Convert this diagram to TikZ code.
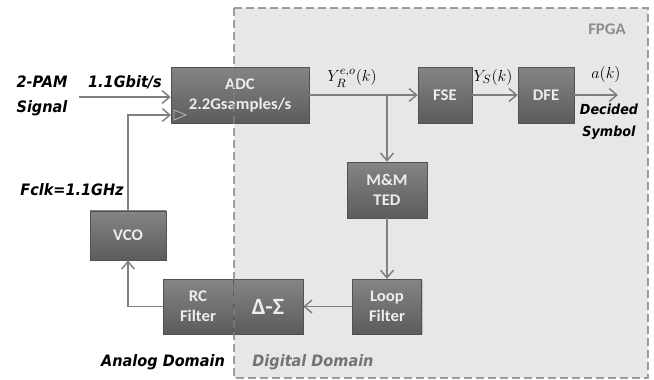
\documentclass[tikz,border=0pt]{standalone}
\usepackage{fontspec}
\usepackage{amsmath}
\usetikzlibrary{arrows.meta,shadows}
\newfontfamily\blkfont[FakeStretch=1.03]{Carlito}
\newfontfamily\lblfont[FakeStretch=0.92]{DejaVu Sans}
\definecolor{linea}{HTML}{7F7F7F}
\definecolor{fondo}{HTML}{E7E7E7}
\tikzset{
  bloque/.style={draw=black!68,top color=black!48,bottom color=black!64,text=white!93!black,
    font=\blkfont\bfseries\fontsize{12.2}{15}\selectfont,align=center,inner sep=0pt,
    drop shadow={shadow xshift=0.8pt,shadow yshift=-0.8pt,opacity=0.35}},
  etiq/.style={font=\lblfont\bfseries\itshape\fontsize{11.8}{18.5}\selectfont,align=center},
  flujo/.style={draw=linea,line width=1.1pt,-{Straight Barb[length=2mm,width=3.4mm]}},
}
\begin{document}
\begin{tikzpicture}[x=0.75pt,y=-0.75pt]
  \useasboundingbox (0,0) rectangle (654,379);
  % zona fpga
  \fill[fondo] (234,8) rectangle (648,378);
  % bloques
  \node[bloque,minimum width=103.5pt,minimum height=42pt] (adc) at (240,95) {ADC\\2.2Gsamples/s};
  \node[bloque,minimum width=40.5pt,minimum height=42pt] (fse) at (445,95) {FSE};
  \node[bloque,minimum width=42pt,minimum height=42pt] (dfe) at (546,95) {DFE};
  \node[bloque,minimum width=60pt,minimum height=42pt] (mm) at (387,190) {M\&M\\TED};
  \node[bloque,minimum width=52pt,minimum height=41pt] (loop) at (387,306.5) {Loop\\Filter};
  \node[bloque,minimum width=57pt,minimum height=37pt] (vco) at (128,235.5) {VCO};
  \node[bloque,minimum width=52.5pt,minimum height=41pt] (rc) at (198,306.5) {RC\\Filter};
  \node[bloque,minimum width=52.5pt,minimum height=41pt,font=\blkfont\bfseries\fontsize{17.5}{18}\selectfont] (ds) at (268,306.5) {Δ-Σ};
  % conexiones
  \coordinate (entrada) at (79,97);
  \coordinate (reloj) at (171,115);
  \coordinate (salida) at (618,95);
  \draw[flujo] (entrada) -- (entrada -| adc.west);
  \draw[flujo] (vco.north) |- (reloj);
  \draw[white!72!black,line width=0.6pt] (174,110) -- (186,115) -- (174,120) -- cycle;
  \draw[flujo] (adc) -- (fse);
  \draw[flujo] (fse) -- (dfe);
  \draw[flujo] (dfe) -- (salida);
  \draw[flujo] (mm |- adc.east) -- (mm.north);
  \draw[flujo] (mm) -- (loop);
  \draw[flujo] (loop) -- (ds);
  \draw[flujo] (rc.west) -| (vco.south);
  % borde fpga
  \draw[linea,line width=0.9pt,dash pattern=on 6pt off 3pt,opacity=0.75] (234,8) rectangle (648,378);
  % etiquetas
  \node[etiq] (pam) at (42,96) {2-PAM\\Signal};
  \node[etiq] (tasa) at (125,82) {1.1Gbit/s};
  \node[etiq] (fclk) at (72,190) {Fclk=1.1GHz};
  \node[etiq] (analog) at (163,362) {Analog Domain};
  \node[etiq,text=black!55] (digital) at (313,362) {Digital Domain};
  \node[etiq,font=\lblfont\bfseries\itshape\fontsize{10.4}{16.5}\selectfont] (decid) at (609,122) {Decided\\Symbol};
  \node[font=\blkfont\bfseries\fontsize{12.2}{14}\selectfont,text=black!45] (fpga) at (607,29) {FPGA};
  \node[font=\fontsize{13}{15}\selectfont] (yr) at (352,78) {$Y_R^{e,o}(k)$};
  \node[font=\fontsize{13}{15}\selectfont] (ys) at (493,77) {$Y_S(k)$};
  \node[font=\fontsize{13}{15}\selectfont] (ak) at (606,74) {$a(k)$};
\end{tikzpicture}
\end{document}
